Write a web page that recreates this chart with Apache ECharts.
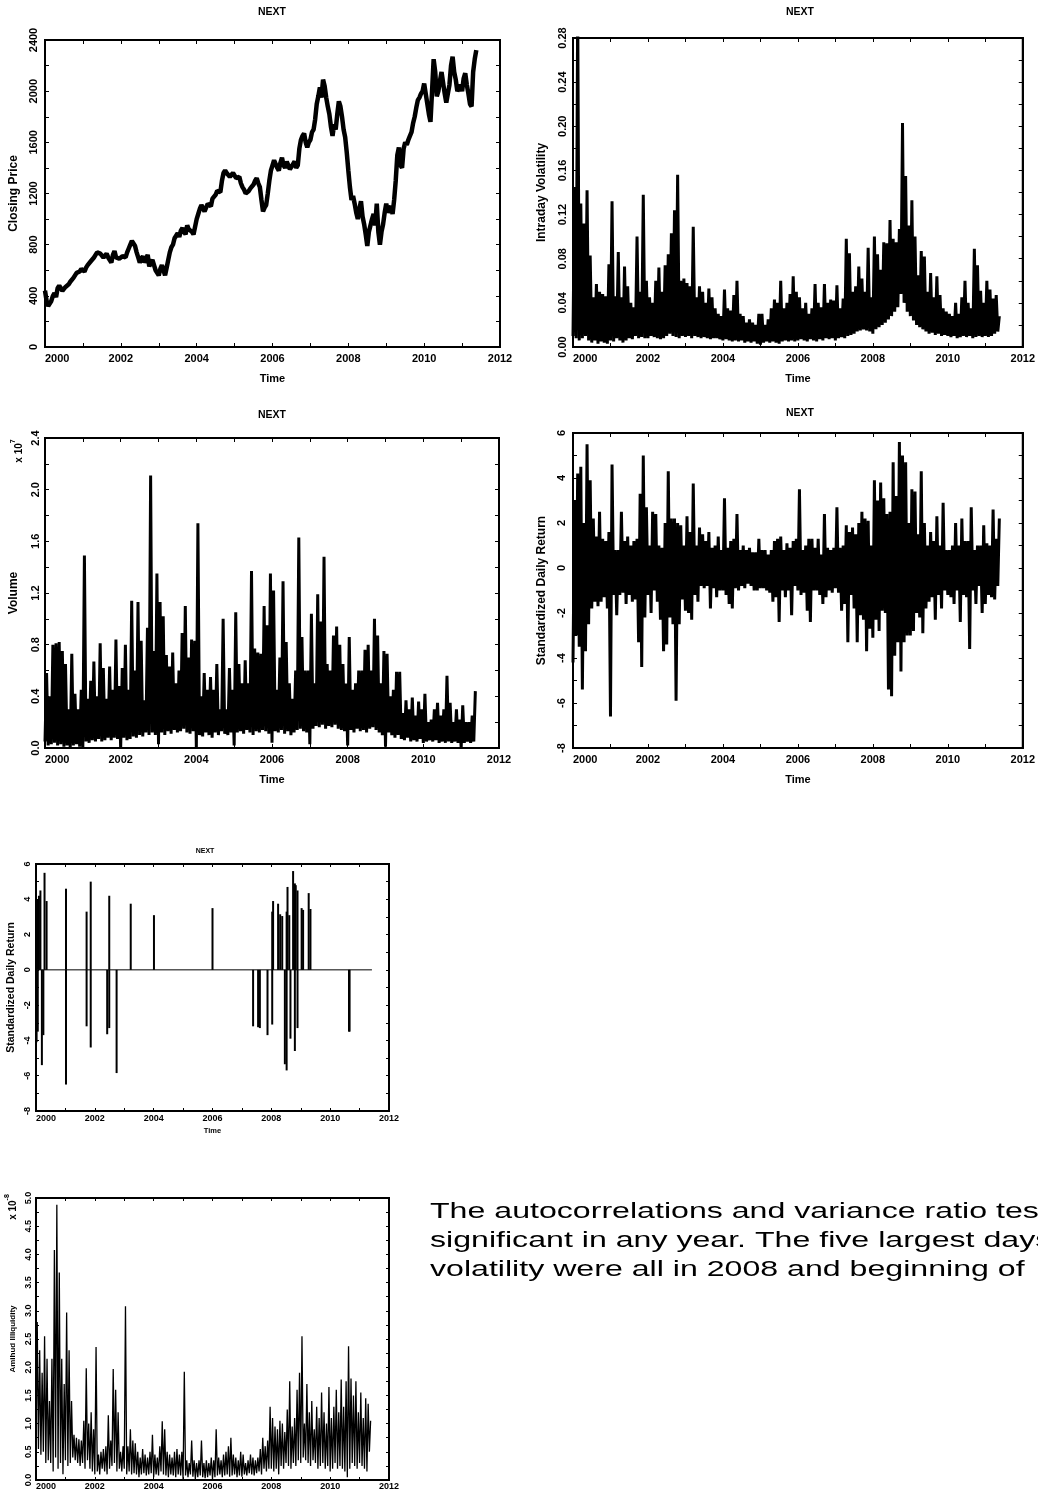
<!DOCTYPE html>
<html>
<head>
<meta charset="utf-8">
<script src="https://cdn.jsdelivr.net/npm/echarts@6/dist/echarts.min.js"></script>
<style>
  html, body { margin: 0; padding: 0; background: #fff; overflow: hidden; }
  #chart { width: 1038px; height: 1494px; }
</style>
</head>
<body>
<div id="chart"></div>
<script>
const FONT = '"Liberation Sans", Arial, Helvetica, sans-serif'

// first sample of every series, in decimal years; samples are monthly
const T0 = 2000

// closing price, reading at the start of each month ...
const closingPrice = [
  440, 320, 360, 420, 460, 470, 450, 460, 510, 540, 580, 590,
  600, 620, 650, 680, 720, 750, 720, 710, 700, 660, 750, 700,
  690, 720, 740, 800, 830, 740, 660, 710, 690, 630, 680, 600,
  560, 640, 560, 680, 780, 850, 890, 910, 900, 950, 930, 880,
  1000, 1080, 1120, 1070, 1130, 1160, 1190, 1230, 1300, 1380, 1370, 1340,
  1350, 1310, 1280, 1230, 1190, 1240, 1270, 1320, 1250, 1060, 1110, 1300,
  1420, 1450, 1380, 1480, 1400, 1460, 1400, 1450, 1420, 1620, 1670, 1560,
  1620, 1700, 1900, 2030, 2090, 1950, 1820, 1650, 1700, 1920, 1800, 1640,
  1380, 1150, 1120, 1000, 1140, 960, 790, 950, 1040, 1120, 800, 960,
  1120, 1080, 1040, 1300, 1560, 1400, 1600, 1620, 1680, 1800, 1930, 1980,
  2060, 1900, 1760, 2250, 1960, 2080, 2160, 1910, 2050, 2270, 2090, 1990,
  2000, 2140, 1980, 1880, 2250
]
// ... and in the middle of each month
const closingPriceMid = [
  360, 330, 400, 390, 480, 440, 470, 490, 500, 560, 570, 610,
  590, 640, 670, 700, 740, 730, 700, 730, 680, 720, 700, 690,
  710, 700, 770, 830, 790, 700, 690, 660, 720, 660, 640, 580,
  610, 600, 620, 740, 800, 870, 860, 930, 880, 920, 900, 870,
  1040, 1110, 1060, 1120, 1100, 1170, 1220, 1210, 1360, 1360, 1330, 1360,
  1320, 1330, 1250, 1200, 1220, 1250, 1300, 1280, 1150, 1090, 1200, 1380,
  1460, 1400, 1440, 1420, 1450, 1390, 1430, 1400, 1550, 1650, 1600, 1600,
  1680, 1780, 1960, 1950, 2040, 1880, 1720, 1740, 1820, 1880, 1700, 1520,
  1250, 1180, 1050, 1080, 1020, 880, 900, 1000, 950, 900, 900, 1050,
  1050, 1100, 1150, 1500, 1420, 1550, 1580, 1650, 1750, 1870, 1950, 2000,
  1980, 1820, 2000, 2150, 2000, 2150, 1980, 1980, 2200, 2150, 2000, 2050,
  2100, 2050, 1900, 2150, 2320
]

// intraday volatility: highest and lowest reading in each month
const volHigh = [
  0.145, 0.31, 0.13, 0.112, 0.142, 0.083, 0.045, 0.057, 0.05, 0.048, 0.046, 0.075,
  0.132, 0.046, 0.086, 0.045, 0.073, 0.055, 0.04, 0.036, 0.1, 0.05, 0.138, 0.06,
  0.045, 0.04, 0.06, 0.072, 0.05, 0.074, 0.084, 0.103, 0.124, 0.156, 0.06, 0.062,
  0.058, 0.055, 0.109, 0.045, 0.055, 0.05, 0.04, 0.053, 0.045, 0.035, 0.03, 0.028,
  0.052, 0.035, 0.033, 0.047, 0.06, 0.03, 0.028, 0.022, 0.025, 0.022, 0.02, 0.03,
  0.03, 0.02, 0.025, 0.035, 0.043, 0.04, 0.06, 0.035, 0.04, 0.048, 0.064, 0.05,
  0.045, 0.035, 0.04, 0.03, 0.035, 0.057, 0.04, 0.036, 0.057, 0.04, 0.043, 0.042,
  0.056, 0.035, 0.044, 0.098, 0.085, 0.05, 0.055, 0.073, 0.062, 0.05, 0.09, 0.045,
  0.1, 0.084, 0.07, 0.095, 0.094, 0.115, 0.098, 0.095, 0.107, 0.203, 0.155, 0.11,
  0.133, 0.1, 0.065, 0.087, 0.082, 0.05, 0.067, 0.045, 0.064, 0.047, 0.035, 0.032,
  0.03, 0.028, 0.04, 0.03, 0.045, 0.06, 0.04, 0.035, 0.089, 0.074, 0.051, 0.04,
  0.06, 0.052, 0.044, 0.047, 0.028
]
const volLow = [
  0.01, 0.008, 0.006, 0.008, 0.01, 0.006, 0.004, 0.006, 0.003, 0.005, 0.004, 0.003,
  0.006, 0.005, 0.008, 0.006, 0.004, 0.006, 0.008, 0.007, 0.01, 0.008, 0.009, 0.008,
  0.008, 0.01, 0.009, 0.008, 0.007, 0.008, 0.01, 0.012, 0.01, 0.009, 0.008, 0.01,
  0.009, 0.01, 0.008, 0.01, 0.009, 0.008, 0.009, 0.008, 0.007, 0.008, 0.008, 0.007,
  0.006, 0.007, 0.006, 0.005, 0.006, 0.005, 0.006, 0.004, 0.005, 0.004, 0.005, 0.003,
  0.002, 0.004, 0.005, 0.004, 0.005, 0.004, 0.003, 0.005, 0.006, 0.005, 0.006, 0.005,
  0.006, 0.007, 0.006, 0.005, 0.007, 0.006, 0.005, 0.007, 0.006, 0.008, 0.007, 0.008,
  0.006, 0.008, 0.009, 0.008, 0.01, 0.011, 0.012, 0.014, 0.015, 0.016, 0.015, 0.014,
  0.012, 0.016, 0.018, 0.02, 0.022, 0.025, 0.028, 0.032, 0.036, 0.048, 0.04, 0.032,
  0.028, 0.024, 0.02, 0.018, 0.016, 0.014, 0.012, 0.013, 0.011, 0.012, 0.01, 0.011,
  0.01, 0.009, 0.01, 0.008, 0.009, 0.01, 0.009, 0.01, 0.008, 0.009, 0.01, 0.009,
  0.01, 0.009, 0.01, 0.012, 0.014
]

// volume (x 10^7): highest and lowest reading in each month
const volumeHigh = [
  0.58, 0.4, 0.8, 0.81, 0.82, 0.75, 0.65, 0.3, 0.73, 0.42, 0.3, 0.45,
  1.49, 0.38, 0.52, 0.67, 0.4, 0.81, 0.62, 0.38, 0.63, 0.45, 0.84, 0.48,
  0.62, 0.8, 0.45, 1.14, 0.6, 1.13, 0.83, 0.37, 0.93, 2.11, 0.75, 1.35,
  1.13, 1.02, 0.72, 0.63, 0.74, 0.5, 0.6, 0.89, 1.1, 0.7, 0.84, 0.83,
  1.74, 0.4, 0.58, 0.45, 0.55, 0.45, 0.65, 0.3, 1.0, 0.3, 0.62, 0.45,
  1.05, 0.65, 0.5, 0.68, 0.5, 1.37, 0.77, 0.74, 0.73, 1.1, 0.95, 1.35,
  1.22, 0.45, 0.7, 1.29, 0.82, 0.5, 0.38, 0.6, 1.63, 0.86, 0.6, 0.6,
  1.04, 0.5, 1.19, 0.98, 1.48, 0.65, 0.6, 0.87, 0.94, 0.8, 0.65, 0.5,
  0.86, 0.45, 0.5, 0.6, 0.6, 0.76, 0.8, 0.6, 1.0, 0.87, 0.5, 0.75,
  0.73, 0.4, 0.45, 0.59, 0.59, 0.27, 0.37, 0.3, 0.39, 0.25, 0.36, 0.3,
  0.42, 0.2, 0.22, 0.3, 0.35, 0.25, 0.3, 0.56, 0.35, 0.2, 0.3, 0.22,
  0.33, 0.2, 0.2, 0.25, 0.44
]
const volumeLow = [
  0.05, 0.02, 0.03, 0.04, 0.02, 0.03, 0.01, 0.02, 0.0, 0.02, 0.03, 0.01,
  0.0, 0.05, 0.04, 0.06, 0.05, 0.07, 0.05, 0.06, 0.08, 0.06, 0.08, 0.07,
  0.0, 0.08, 0.06, 0.07, 0.09, 0.08, 0.1, 0.09, 0.12, 0.1, 0.12, 0.1,
  0.03, 0.12, 0.1, 0.13, 0.11, 0.14, 0.12, 0.13, 0.15, 0.12, 0.11, 0.13,
  0.0, 0.1, 0.09, 0.12, 0.1, 0.08, 0.12, 0.1, 0.13, 0.11, 0.1, 0.12,
  0.02, 0.12, 0.13, 0.11, 0.14, 0.12, 0.1, 0.13, 0.12, 0.14, 0.13, 0.11,
  0.04, 0.13, 0.12, 0.14, 0.11, 0.13, 0.1, 0.12, 0.14, 0.15, 0.13, 0.12,
  0.03, 0.15, 0.17, 0.16, 0.18, 0.15, 0.17, 0.16, 0.18, 0.15, 0.14, 0.13,
  0.02, 0.14, 0.12, 0.15, 0.13, 0.14, 0.12, 0.15, 0.16, 0.14, 0.12, 0.1,
  0.01, 0.12, 0.1, 0.08, 0.1, 0.07, 0.06, 0.08, 0.05, 0.06, 0.05, 0.07,
  0.04, 0.05, 0.06, 0.05, 0.06, 0.04, 0.05, 0.04, 0.05, 0.04, 0.05, 0.04,
  0.0, 0.04, 0.05, 0.04, 0.05
]

// standardized daily return: highest and lowest reading in each month
const retHigh = [
  3.0, 4.2, 4.5, 2.0, 5.5, 3.9, 2.2, 1.4, 2.5, 1.3, 1.2, 1.6,
  4.6, 0.8, 0.8, 2.5, 1.2, 1.4, 1.0, 1.2, 1.3, 3.3, 5.0, 2.7,
  1.0, 2.5, 2.4, 1.0, 0.9, 2.0, 4.3, 2.2, 2.2, 2.0, 1.9, 1.0,
  2.3, 1.6, 3.75, 1.0, 1.8, 1.5, 1.2, 1.6, 0.9, 1.0, 1.4, 0.8,
  3.1, 0.9, 1.2, 1.3, 2.4, 0.8, 1.0, 0.8, 0.9, 0.7, 0.7, 1.3,
  0.8, 0.8, 0.6, 0.8, 1.2, 1.3, 1.4, 0.8, 1.1, 0.9, 1.2, 1.3,
  3.5, 0.8, 1.0, 1.3, 1.3, 0.9, 1.3, 0.6, 2.4, 0.9, 0.8, 0.9,
  2.7, 0.9, 1.0, 1.9, 1.6, 1.8, 1.5, 2.0, 2.5, 2.2, 2.1, 1.0,
  3.9, 3.0, 3.8, 3.1, 2.4, 2.5, 4.7, 3.2, 5.6, 5.0, 4.7, 2.0,
  3.5, 3.4, 1.5, 4.3, 2.0, 1.0, 1.6, 1.2, 2.3, 1.0, 2.9, 0.8,
  0.8, 1.0, 2.0, 1.0, 2.2, 1.2, 1.2, 2.7, 0.8, 1.0, 1.0, 1.9,
  1.1, 1.0, 2.6, 1.3, 2.2
]
const retLow = [
  -4.2, -3.0, -3.5, -5.4, -3.7, -2.5, -1.8, -1.5, -1.7, -1.5, -1.3, -1.8,
  -6.6, -1.2, -2.1, -1.2, -1.1, -1.6, -1.2, -1.5, -1.4, -3.3, -4.4, -2.2,
  -1.2, -2.0, -1.0, -1.5, -2.3, -3.7, -3.4, -2.2, -2.5, -5.9, -2.5, -1.4,
  -1.9, -2.0, -2.3, -1.2, -1.5, -0.8, -0.9, -0.8, -1.8, -0.9, -1.3, -1.0,
  -1.0, -1.2, -1.6, -1.8, -0.9, -1.0, -0.8, -0.9, -0.7, -0.8, -1.0, -1.0,
  -0.9, -0.9, -1.0, -1.1, -1.5, -1.3, -2.4, -1.0, -1.3, -1.0, -2.1, -0.8,
  -1.0, -1.2, -1.1, -1.9, -2.4, -1.0, -1.0, -1.2, -1.6, -1.3, -1.0, -1.1,
  -0.9, -1.1, -1.9, -1.6, -3.3, -1.2, -1.8, -3.3, -2.1, -2.3, -3.7, -2.7,
  -3.1, -2.3, -2.8, -1.9, -2.0, -5.4, -5.7, -3.9, -3.3, -4.6, -3.3, -3.0,
  -3.0, -2.8, -2.0, -2.2, -2.9, -1.8, -1.5, -1.3, -2.3, -1.2, -1.8, -1.0,
  -1.2, -1.3, -1.6, -1.0, -2.4, -1.2, -1.3, -3.6, -1.0, -1.6, -0.8, -2.0,
  -1.6, -1.2, -1.3, -1.4, -0.8
]

// days with an absolute standardized return above 3
const extremeT = [
  2000.02, 2000.06, 2000.06, 2000.1, 2000.15, 2000.2, 2000.25, 2000.29, 2000.36,
  2001.02, 2001.02, 2001.72, 2001.72, 2001.86, 2001.86, 2002.42, 2002.49, 2002.49,
  2002.74, 2003.22, 2004.01, 2006.0, 2007.38, 2007.55, 2007.61, 2007.87,
  2008.03, 2008.03, 2008.06, 2008.23, 2008.3, 2008.37, 2008.46, 2008.52, 2008.52,
  2008.55, 2008.61, 2008.65, 2008.74, 2008.8, 2008.8, 2008.83, 2008.89, 2008.89,
  2009.03, 2009.08, 2009.27, 2009.33, 2010.64, 2010.66
]
const extremeR = [
  -4.1, 4.0, -3.5, 4.2, 4.5, -5.4, -3.7, 5.5, 3.9,
  4.6, -6.5, 3.3, -3.2, 5.0, -4.4, -3.65, 4.2, -3.3,
  -5.85, 3.75, 3.1, 3.5, -3.2, -3.25, -3.3, -3.7,
  3.3, -3.1, 3.9, 3.75, 3.15, 3.05, -5.35, 3.3, -5.7,
  4.7, 3.1, -3.9, 5.6, 4.9, -4.6, 4.8, 4.5, -3.3,
  3.5, 3.4, 4.35, 3.45, -3.5, -3.5
]
const zeroLineT = [2000, 2011.42]

// Amihud illiquidity (x 10^-8): highest and lowest reading in each month
const amihudHigh = [
  2.8, 2.3, 1.9, 2.55, 2.15, 1.4, 2.15, 4.08, 4.88, 3.68, 2.15, 1.7,
  2.97, 2.3, 1.4, 0.8, 0.75, 0.72, 0.7, 1.05, 1.98, 1.0, 1.2, 0.9,
  2.36, 0.45, 0.5, 0.55, 0.6, 1.15, 0.7, 1.97, 1.6, 1.2, 0.5, 0.6,
  3.08, 0.6, 0.9, 0.7, 0.65, 0.5, 0.4, 0.55, 0.45, 0.4, 0.5, 0.8,
  0.45, 0.4, 0.6, 1.04, 0.9, 0.5, 0.45, 0.4, 0.5, 0.55, 0.45, 0.5,
  1.92, 0.35, 0.3, 0.7, 0.35, 0.3, 0.35, 0.7, 0.3, 0.35, 0.3, 0.4,
  0.35, 0.9, 0.4, 0.35, 0.45, 0.5, 0.6, 0.75, 0.45, 0.4, 0.35, 0.5,
  0.45, 0.3, 0.35, 0.45, 0.4, 0.35, 0.4, 0.55, 0.75, 0.6, 0.7, 1.3,
  1.1, 0.95, 0.9, 1.05, 1.0, 0.85, 1.25, 1.75, 0.95, 1.1, 1.6, 1.9,
  2.55, 1.0, 1.7, 1.2, 1.4, 0.9, 1.3, 1.1, 1.55, 1.2, 1.0, 1.65,
  1.1, 1.3, 1.6, 1.2, 1.78, 1.3, 1.75, 2.37, 1.8, 1.5, 1.75, 1.2,
  1.55, 1.1, 1.45, 1.35, 1.05
]
const amihudLow = [
  0.6, 0.55, 0.45, 0.5, 0.3, 0.35, 0.3, 0.15, 0.4, 0.2, 0.3, 0.1,
  0.35, 0.25, 0.3, 0.4, 0.35, 0.3, 0.25, 0.3, 0.2, 0.35, 0.2, 0.15,
  0.1, 0.15, 0.1, 0.2, 0.15, 0.1, 0.2, 0.25, 0.3, 0.15, 0.2, 0.15,
  0.2, 0.1, 0.15, 0.1, 0.12, 0.1, 0.05, 0.1, 0.12, 0.08, 0.1, 0.12,
  0.05, 0.1, 0.08, 0.15, 0.1, 0.08, 0.05, 0.1, 0.08, 0.05, 0.1, 0.08,
  0.02, 0.08, 0.05, 0.1, 0.06, 0.02, 0.05, 0.08, 0.05, 0.03, 0.05, 0.08,
  0.02, 0.05, 0.08, 0.1, 0.05, 0.08, 0.1, 0.06, 0.08, 0.1, 0.05, 0.08,
  0.06, 0.1, 0.08, 0.12, 0.1, 0.08, 0.12, 0.15, 0.1, 0.2, 0.15, 0.2,
  0.2, 0.15, 0.2, 0.1, 0.25, 0.2, 0.3, 0.25, 0.2, 0.3, 0.25, 0.35,
  0.3, 0.4, 0.35, 0.3, 0.25, 0.35, 0.3, 0.2, 0.25, 0.3, 0.2, 0.25,
  0.15, 0.2, 0.3, 0.2, 0.25, 0.2, 0.15, 0.05, 0.2, 0.3, 0.25, 0.2,
  0.3, 0.25, 0.2, 0.15, 0.5
]

const paragraph = [
  'The autocorrelations and variance ratio tests',
  'significant in any year. The five largest days',
  'volatility were all in 2008 and beginning of'
]

// first reading of each month at its start, second half a month later
const interleave = (first, second) => first.flatMap((v, i) => [[T0 + i / 12, v], [T0 + (i + 0.5) / 12, second[i]]])

// layout of the six panels
const panels = [
  { box: { left: 45, top: 40, width: 455, height: 307 }, min: 0, max: 2400, step: 400, dec: 0,
    yname: 'Closing Price', xname: 'Time', tfs: 11, nfs: 12, xnfs: 11, ym: 6, ygap: 25, xm: 6, xgap: 26, tl: 4 },
  { box: { left: 573, top: 38, width: 454, height: 309 }, min: 0, max: 0.28, step: 0.04, dec: 2,
    yname: 'Intraday Volatility', xname: 'Time', tfs: 11, nfs: 12, xnfs: 11, ym: 5, ygap: 25, xm: 6, xgap: 26, tl: 4 },
  { box: { left: 45, top: 438, width: 454, height: 310 }, min: 0, max: 2.4, step: 0.4, dec: 1,
    yname: 'Volume', xname: 'Time', tfs: 11, nfs: 12, xnfs: 11, ym: 4, ygap: 25, xm: 6, xgap: 26, tl: 4 },
  { box: { left: 573, top: 433, width: 454, height: 315 }, min: -8, max: 6, step: 2, dec: 0,
    yname: 'Standardized Daily Return', xname: 'Time', tfs: 11, nfs: 12, xnfs: 11, ym: 6, ygap: 25, xm: 6, xgap: 26, tl: 4 },
  { box: { left: 36, top: 864, width: 353, height: 247 }, min: -8, max: 6, step: 2, dec: 0,
    yname: 'Standardized Daily Return', xname: 'Time', tfs: 9, nfs: 10.5, xnfs: 7.5, ym: 4, ygap: 19, xm: 3, xgap: 16, tl: 3 },
  { box: { left: 36, top: 1198, width: 353, height: 282 }, min: 0, max: 5, step: 0.5, dec: 1,
    yname: 'Amihud Illiquidity', xname: '', tfs: 9, nfs: 8, xnfs: 8, ym: 3, ygap: 19, xm: 2, xgap: 16, tl: 3 }
]

const grids = [], xAxes = [], yAxes = []
panels.forEach((p, g) => {
  grids.push({ ...p.box, show: true, borderColor: '#000', borderWidth: 2, backgroundColor: '#fff' })
  const line = { show: true, onZero: false, lineStyle: { color: '#000', width: 2 } }
  const tick = { show: true, inside: true, length: p.tl, lineStyle: { color: '#000', width: 1 } }
  const minor = { show: true, splitNumber: 2, length: p.tl, lineStyle: { color: '#000', width: 1 } }
  const txt = { fontFamily: FONT, fontWeight: 'bold', color: '#000' }
  const xBase = { type: 'value', gridIndex: g, min: 2000, max: 2012, interval: 2,
    axisLine: line, axisTick: tick, minorTick: minor, splitLine: { show: false } }
  const yBase = { type: 'value', gridIndex: g, min: p.min, max: p.max, interval: p.step,
    axisLine: line, axisTick: tick, minorTick: minor, splitLine: { show: false } }
  xAxes.push({
    ...xBase, position: 'bottom',
    axisLabel: { ...txt, fontSize: p.tfs, margin: p.xm, alignMinLabel: 'left', formatter: v => String(v) },
    name: p.xname, nameLocation: 'middle', nameGap: p.xgap, nameTextStyle: { ...txt, fontSize: p.xnfs }
  }, { ...xBase, position: 'top', axisLabel: { show: false } })
  yAxes.push({
    ...yBase, position: 'left',
    axisLabel: { ...txt, fontSize: p.tfs, margin: p.ym, rotate: 90, formatter: v => v.toFixed(p.dec) },
    name: p.yname, nameLocation: 'middle', nameRotate: 90, nameGap: p.ygap,
    nameTextStyle: { ...txt, fontSize: p.nfs }
  }, { ...yBase, position: 'right', axisLabel: { show: false } })
})

const trace = (g, data, width) => ({
  type: 'line', xAxisIndex: 2 * g, yAxisIndex: 2 * g, data,
  symbol: 'none', showSymbol: false, clip: true, silent: true,
  lineStyle: { color: '#000', width, join: 'bevel' }
})

const series = [
  trace(0, interleave(closingPrice, closingPriceMid), 4.5),
  trace(1, interleave(volLow, volHigh), 3),
  trace(2, interleave(volumeLow, volumeHigh), 3),
  trace(3, interleave(retLow, retHigh), 3),
  {
    type: 'bar', xAxisIndex: 8, yAxisIndex: 8, barWidth: 2, silent: true,
    data: extremeT.map((t, i) => [t, extremeR[i]]),
    itemStyle: { color: '#000' }
  },
  trace(4, zeroLineT.map(t => [t, 0]), 1),
  trace(5, interleave(amihudLow, amihudHigh), 1.3)
]

const label = (x, y, text, size) => ({
  type: 'text', x, y, silent: true,
  style: { text, font: `bold ${size}px ${FONT}`, fill: '#000',
    align: 'center', verticalAlign: 'middle', textAlign: 'center', textVerticalAlign: 'middle' }
})
const power = (x, y, base, exp) => ({
  type: 'text', x, y, rotation: Math.PI / 2, silent: true,
  style: {
    text: `{a|${base}}{b|${exp}}`, fill: '#000',
    align: 'center', verticalAlign: 'middle', textAlign: 'center', textVerticalAlign: 'middle',
    rich: {
      a: { font: `bold 10px ${FONT}`, lineHeight: 14, verticalAlign: 'bottom' },
      b: { font: `bold 7px ${FONT}`, verticalAlign: 'top' }
    }
  }
})

const graphics = [
  label(272, 12, 'NEXT', 10.5),
  label(800, 12, 'NEXT', 10.5),
  label(272, 415, 'NEXT', 10.5),
  label(800, 413, 'NEXT', 10.5),
  label(205, 851, 'NEXT', 7),
  power(17, 451, 'x 10', '7'),
  power(11, 1207, 'x 10', '-8')
]
// the paragraph in the source is set in a wide face, so the text is stretched sideways
paragraph.forEach((s, i) => graphics.push({
  type: 'text', x: 430, y: 1212 + i * 29, scaleX: 1.46, silent: true,
  style: { text: s, font: `22px ${FONT}`, fill: '#000',
    align: 'left', verticalAlign: 'middle', textAlign: 'left', textVerticalAlign: 'middle' }
}))

const chart = echarts.init(document.getElementById('chart'), null, { renderer: 'canvas' })
chart.setOption({
  animation: false,
  backgroundColor: '#fff',
  grid: grids,
  xAxis: xAxes,
  yAxis: yAxes,
  series,
  graphic: graphics
})
</script>
</body>
</html>
